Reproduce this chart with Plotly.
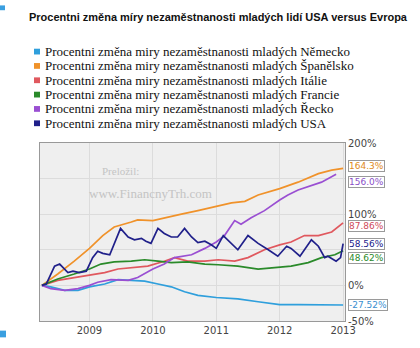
import plotly.graph_objects as go

# ---------------- data ----------------
title_text = "Procentni změna míry nezaměstnanosti mladých lidí USA versus Evropa"
legend_prefix = "Procentni změna miry nezaměstnanosti mladých "
countries = ["Německo", "Španělsko", "Itálie", "Francie", "Řecko", "USA"]
colors = ["#2f9fdc", "#f0922a", "#e0585e", "#2a8a2a", "#9a4fd2", "#20208a"]
label_colors = ["#3a8fd0", "#e08a20", "#d04a5a", "#2a8a2a", "#8a4fc8", "#20208a"]
end_labels = ["-27.52%", "164.3%", "87.86%", "48.62%", "156.0%", "58.56%"]
end_values = [-27.52, 164.3, 87.86, 48.62, 156.0, 58.56]
end_shift = [0, 2, -3, -7, -8, 0]

de_x = [2008.25, 2008.39, 2008.61, 2008.82, 2009.00, 2009.24, 2009.45, 2009.66, 2009.87, 2010.08,
        2010.29, 2010.50, 2010.71, 2011.00, 2011.34, 2011.66, 2012.00, 2012.29, 2012.66, 2013.00]
de_y = [0, -2, -7, -7, -2, 2, 8, 7, 6, 2, -2, -9, -14, -17, -19, -23, -27, -27, -27, -27.52]

es_x = [2008.25, 2008.50, 2008.76, 2009.00, 2009.21, 2009.39, 2009.66, 2009.76, 2010.00, 2010.18,
        2010.45, 2010.71, 2011.00, 2011.24, 2011.45, 2011.66, 2012.00, 2012.29, 2012.61, 2012.82, 2013.00]
es_y = [0, 16, 34, 52, 70, 82, 89, 92, 91, 95, 100, 105, 111, 116, 118, 127, 136, 145, 157, 162, 164.3]

it_x = [2008.25, 2008.50, 2008.76, 2009.00, 2009.24, 2009.45, 2009.66, 2009.92, 2010.18, 2010.34,
        2010.55, 2010.82, 2011.03, 2011.29, 2011.50, 2011.76, 2012.00, 2012.18, 2012.39, 2012.61, 2012.82, 2013.00]
it_y = [0, 7, 11, 14, 18, 23, 25, 27, 34, 39, 34, 34, 36, 34, 39, 50, 57, 61, 70, 70, 75, 87.86]

fr_x = [2008.25, 2008.50, 2008.76, 2009.00, 2009.18, 2009.39, 2009.66, 2009.87, 2010.08, 2010.29,
        2010.55, 2010.82, 2011.03, 2011.34, 2011.66, 2011.87, 2012.18, 2012.45, 2012.66, 2012.87, 2013.00]
fr_y = [0, 9, 16, 23, 30, 33, 34, 36, 34, 32, 33, 30, 29, 27, 23, 25, 27, 32, 39, 43, 48.62]

gr_x = [2008.25, 2008.39, 2008.61, 2008.82, 2009.00, 2009.13, 2009.34, 2009.61, 2009.76, 2010.00,
        2010.18, 2010.34, 2010.61, 2010.82, 2011.00, 2011.13, 2011.29, 2011.39, 2011.55, 2011.76,
        2012.00, 2012.13, 2012.29, 2012.45, 2012.66, 2012.89]
gr_y = [0, -4.5, -7, -4.5, 0, 4.5, 8, 7, 11, 23, 30, 39, 43, 52, 61, 70, 91, 86, 95, 105,
        120, 127, 134, 139, 145, 156]

us_x = [2008.25, 2008.32, 2008.45, 2008.53, 2008.66, 2008.74, 2008.84, 2008.95, 2009.05, 2009.13,
        2009.21, 2009.32, 2009.49, 2009.61, 2009.71, 2009.82, 2009.89, 2009.97, 2010.08, 2010.18,
        2010.29, 2010.39, 2010.50, 2010.61, 2010.71, 2010.82, 2010.92, 2011.00, 2011.11, 2011.24,
        2011.34, 2011.50, 2011.66, 2011.82, 2011.97, 2012.11, 2012.18, 2012.32, 2012.50, 2012.61,
        2012.71, 2012.76, 2012.89, 2012.96, 2013.00]
us_y = [0, 2, 27, 30, 18, 20, 18, 20, 39, 48, 45, 43, 80, 68, 64, 66, 62, 59, 80, 73,
        68, 68, 80, 68, 60, 62, 57, 52, 70, 59, 50, 70, 59, 50, 41, 55, 52, 41, 64, 55,
        39, 41, 34, 39, 58.56]

xs = [de_x, es_x, it_x, fr_x, gr_x, us_x]
ys = [de_y, es_y, it_y, fr_y, gr_y, us_y]

y_ticks = [-50, 0, 50, 100, 150, 200]
y_ticklabels = ["-50%", "0%", "", "100%", "", "200%"]  # 50% / 150% hidden behind tags in the original
x_ticks = [2009, 2010, 2011, 2012, 2013]

# ---------------- layout helpers ----------------
W, H = 420, 348
L, R, T, B = 40, 75, 143, 20
PW, PH = W - L - R, H - T - B


def px(x):
    return (x - L) / PW


def py(y):
    return (H - B - y) / PH


fig = go.Figure()
for i, c in enumerate(countries):
    fig.add_trace(go.Scatter(
        x=xs[i], y=ys[i], mode="lines", name=c, showlegend=False,
        line=dict(color=colors[i], width=1.7),
        hoverinfo="skip",
    ))

annotations = []
shapes = []

# title
annotations.append(dict(
    text="<b>" + title_text + "</b>", xref="paper", yref="paper",
    x=px(27), y=py(12), xanchor="left", yanchor="middle", showarrow=False,
    font=dict(family="Liberation Sans, Arial, sans-serif", size=11, color="#111"),
))

# legend (squares + text)
for i, c in enumerate(countries):
    ycen = 48 + 14.9 * i
    shapes.append(dict(type="rect", xref="paper", yref="paper",
                       x0=px(34), x1=px(40), y0=py(ycen - 3), y1=py(ycen + 3),
                       fillcolor=colors[i], line=dict(width=0)))
    annotations.append(dict(
        text=legend_prefix + c, xref="paper", yref="paper",
        x=px(43), y=py(ycen), xanchor="left", yanchor="middle", showarrow=False,
        font=dict(family="Liberation Serif, Times New Roman, serif", size=13, color="#111"),
    ))

# watermark
annotations.append(dict(text="Preložil:", xref="paper", yref="paper",
                        x=px(121), y=py(172), xanchor="center", yanchor="middle", showarrow=False,
                        font=dict(family="Liberation Serif, serif", size=11, color="#c4c4c4")))
annotations.append(dict(text="www.FinancnyTrh.com", xref="paper", yref="paper",
                        x=px(150), y=py(196), xanchor="center", yanchor="middle", showarrow=False,
                        font=dict(family="Liberation Serif, serif", size=13, color="#c4c4c4")))

# end-value tags
for i in range(len(countries)):
    annotations.append(dict(
        text=end_labels[i], xref="paper", yref="y", x=1, y=end_values[i],
        xanchor="left", yanchor="middle", xshift=3, yshift=end_shift[i], showarrow=False,
        font=dict(family="DejaVu Sans, sans-serif", size=9, color=label_colors[i]),
        bgcolor="white", bordercolor="#9a9a9a", borderwidth=1, borderpad=0,
    ))

# decorative blue squares
shapes.append(dict(type="rect", xref="paper", yref="paper", x0=px(0), x1=px(5),
                   y0=py(5), y1=py(0), fillcolor="#3a9fe0", line=dict(width=0)))
shapes.append(dict(type="rect", xref="paper", yref="paper", x0=px(0), x1=px(6),
                   y0=py(345), y1=py(338), fillcolor="#3a9fe0", line=dict(width=0)))

fig.update_layout(
    width=W, height=H,
    margin=dict(l=L, r=R, t=T, b=B),
    paper_bgcolor="white", plot_bgcolor="#efefef",
    showlegend=False,
    annotations=annotations, shapes=shapes,
    xaxis=dict(range=[2008.22, 2013.03], tickvals=x_ticks, ticktext=[str(v) for v in x_ticks],
               showgrid=True, gridcolor="#dcdcdc", gridwidth=1, zeroline=False,
               showline=True, linecolor="#999", mirror=True, ticks="",
               tickfont=dict(family="DejaVu Sans, sans-serif", size=10, color="#444")),
    yaxis=dict(range=[-50, 200], side="right", tickvals=y_ticks, ticktext=y_ticklabels,
               showgrid=True, gridcolor="#dcdcdc", gridwidth=1, zeroline=False,
               showline=True, linecolor="#999", mirror=True, ticks="",
               tickfont=dict(family="DejaVu Sans, sans-serif", size=10, color="#444")),
)

fig.write_html("out.html")
